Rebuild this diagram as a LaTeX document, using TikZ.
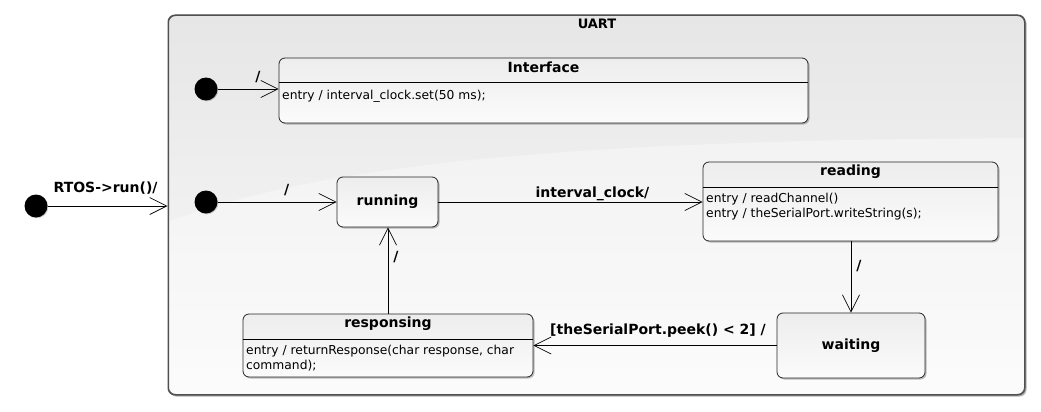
\documentclass[tikz,border=0pt]{standalone}
\usepackage{fontspec}
\setmainfont{DejaVu Sans}
\usetikzlibrary{arrows.meta,shadows,calc}
\definecolor{bordergray}{HTML}{505050}
\definecolor{bgtop}{HTML}{E6E6E6}
\definecolor{bgbot}{HTML}{FAFAFA}
\definecolor{sttop}{HTML}{EDEDED}
\definecolor{stbot}{HTML}{FBFBFB}
\tikzset{
  arr/.style={-{Straight Barb[length=17pt,width=17pt,line width=0.7pt]},line width=0.7pt,black},
  statebox/.style={draw=black!85,line width=0.8pt,rounded corners=6pt,top color=sttop,bottom color=stbot,
     drop shadow={shadow xshift=1.5pt,shadow yshift=-1.5pt,opacity=0.25,fill=black},inner sep=0pt},
  initdot/.style={circle,fill=black,minimum size=23pt,inner sep=0pt,
     drop shadow={shadow xshift=0.8pt,shadow yshift=-0.8pt,opacity=0.2,fill=black}},
  ttl/.style={font=\fontsize{14}{16}\selectfont\bfseries},
  lbl/.style={font=\fontsize{14}{16}\selectfont\bfseries,inner sep=1pt},
  body/.style={font=\fontsize{12.3}{15}\selectfont,align=left,inner sep=0pt,anchor=north west}
}
\begin{document}
\begin{tikzpicture}[x=1pt,y=-1pt]
\useasboundingbox (0,0) rectangle (1041,412);
% UART composite state
\node[draw=bordergray,line width=1pt,rounded corners=7pt,top color=bgtop,bottom color=bgbot,
  drop shadow={shadow xshift=1.5pt,shadow yshift=-1.5pt,opacity=0.3,fill=black},
  minimum width=857pt,minimum height=380pt,inner sep=0pt] (uart) at (596.5,205) {};
\begin{scope}
  \clip[rounded corners=7pt] (168.5,15.5) rectangle (1024.5,394.5);
  \fill[white,opacity=0.35] (168,222) .. controls (330,160) and (600,140) .. (1025,138) -- (1025,395) -- (168,395) -- cycle;
\end{scope}
\draw[bordergray,line width=1pt,rounded corners=7pt] (168.5,15.5) rectangle (1024.5,394.5);
\node[font=\fontsize{13}{15}\selectfont\bfseries] (uartt) at (597,24) {UART};

% Interface
\node[statebox,minimum width=529pt,minimum height=65pt] (iface) at (543.5,90.5) {};
\node[ttl] (ifacet) at (543.5,67.5) {Interface};
\draw[black,line width=0.7pt] (iface.west |- 0,82) -- (iface.east |- 0,82);
\node[body] (ifaceb) at (282,89.5) {entry / interval\_clock.set(50 ms);};

% initial states
\node[initdot] (i0) at (36,206) {};
\node[initdot] (i1) at (206,89) {};
\node[initdot] (i2) at (206,202) {};

% running
\node[statebox,minimum width=101pt,minimum height=50pt] (run) at (387.5,202) {};
\node[ttl] (runt) at (387.5,202) {running};

% reading
\node[statebox,minimum width=295pt,minimum height=79pt] (read) at (850.5,201.5) {};
\node[ttl] (readt) at (850.5,171.5) {reading};
\draw[black,line width=0.7pt] (read.west |- 0,187) -- (read.east |- 0,187);
\node[body] (readb) at (706,193) {entry / readChannel()\\entry / theSerialPort.writeString(s);};

% waiting
\node[statebox,minimum width=148pt,minimum height=65pt] (wait) at (851,345.5) {};
\node[ttl] (waitt) at (851,346) {waiting};

% responsing
\node[statebox,minimum width=290pt,minimum height=63pt] (resp) at (388,345.5) {};
\node[ttl] (respt) at (388,323.5) {responsing};
\draw[black,line width=0.7pt] (resp.west |- 0,339) -- (resp.east |- 0,339);
\node[body] (respb) at (246,345) {entry / returnResponse(char response, char\\command);};

% transitions
\draw[arr] (i0) -- (i0 -| uart.west) node[lbl,midway,above=10pt,xshift=-2pt] (l0) {RTOS->run()/};
\draw[arr] (i1) -- (i1 -| iface.west) node[lbl,pos=0.66,above=5pt] (l1) {/};
\draw[arr] (i2) -- (i2 -| run.west) node[lbl,pos=0.58,above=4.5pt] (l2) {/};
\draw[arr] (run.east) -- (run.east -| read.west) node[lbl,midway,above=0pt,xshift=22pt] (l3) {interval\_clock/};
\draw[arr] (read.south -| wait.north) -- (wait.north) node[lbl,pos=0.35,right=4pt] (l4) {/};
\draw[arr] (wait.west) -- (wait.west -| resp.east) node[lbl,midway,above=7pt,xshift=3pt] (l5) {[theSerialPort.peek() < 2] /};
\draw[arr] (resp.north) -- (resp.north |- run.south) node[lbl,pos=0.655,right=4pt] (l6) {/};
\end{tikzpicture}
\end{document}
